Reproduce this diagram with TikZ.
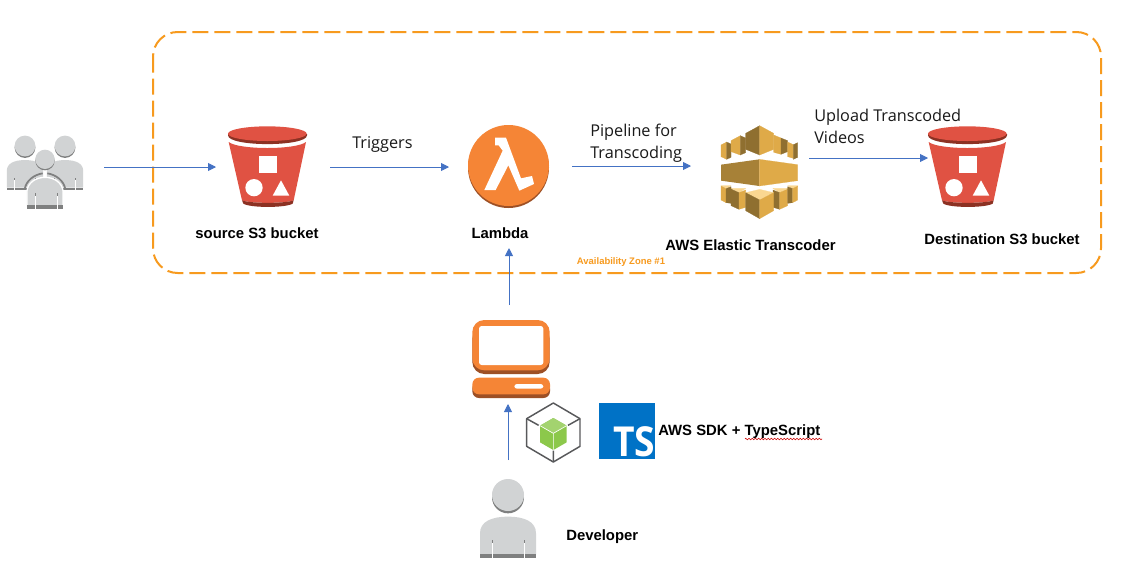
\documentclass[tikz,border=0pt]{standalone}
\usepackage{fontspec}
\setmainfont{Open Sans}
\newfontfamily\arialf{Liberation Sans}
\usetikzlibrary{arrows.meta,decorations.pathmorphing}
\definecolor{zoneorange}{HTML}{F79A1E}
\definecolor{flowblue}{HTML}{4472C4}
\definecolor{bucketred}{HTML}{E05243}
\definecolor{bucketdark}{HTML}{8C3123}
\definecolor{awsorange}{HTML}{F58536}
\definecolor{awsorangedark}{HTML}{9D5025}
\definecolor{goldlight}{HTML}{DFAA48}
\definecolor{golddark}{HTML}{8F6F30}
\definecolor{goldtop}{HTML}{FAD791}
\definecolor{persongrey}{HTML}{D1D3D4}
\definecolor{persondark}{HTML}{7F8080}
\definecolor{tsblue}{HTML}{0072C6}
\definecolor{nodegreen}{HTML}{8CC84B}
\definecolor{cubeline}{HTML}{58595B}
\tikzset{
  iconbox/.style={inner sep=0pt,outer sep=0pt,draw=none},
  flow/.style={draw=flowblue,line width=0.65pt,-{Triangle[length=6pt,width=6pt]}},
  boldlabel/.style={font=\arialf\bfseries\fontsize{11.15pt}{12pt}\selectfont,inner sep=0pt,text=black},
  flowlabel/.style={font=\fontsize{12.2pt}{16.5pt}\selectfont,inner sep=0pt,text=black!90,align=left},
  gl/.style={fill=goldlight,draw=goldlight,line width=0.15pt},
  gd/.style={fill=golddark,draw=golddark,line width=0.15pt},
  gt/.style={fill=goldtop,draw=goldtop,line width=0.15pt},
}
\newcommand{\bucketicon}[2]{%
\begin{scope}[shift={(#1,#2)},scale=1/3]
  \fill[bucketdark] (18,40) .. controls (18,75) and (255,75) .. (255,40) -- (255,36) -- (18,36) -- cycle;
  \fill[bucketred] (136,35) ellipse[x radius=118,y radius=22];
  \fill[bucketred] (20,60) .. controls (50,84) and (222,84) .. (252,60) -- (215,235) .. controls (190,245) and (85,245) .. (60,235) -- cycle;
  \fill[bucketdark] (60,235) .. controls (85,245) and (190,245) .. (215,235) -- (212,245) .. controls (190,258) and (85,258) .. (64,245) -- cycle;
  \fill[white] (112,102) rectangle (164,154);
  \fill[white] (96,197) circle[radius=26];
  \fill[white] (152,221) -- (202,221) -- (177,175) -- cycle;
\end{scope}}
\newcommand{\personicon}[4]{%
\begin{scope}[shift={(#1,#2)},scale=#3/3]
  \fill[persongrey] (-84,#4) -- (-84,115) .. controls (-84,80) and (-50,65) .. (0,65) .. controls (50,65) and (84,80) .. (84,115) -- (84,#4) -- cycle;
  \fill[persondark] (-84,#4) rectangle (84,#4+10);
  \fill[white] (-49,#4-33) rectangle (-47,#4+10);
  \fill[white] (47,#4-33) rectangle (49,#4+10);
  \fill[persondark] (-49,#4-43) rectangle (-47,#4-33);
  \fill[persondark] (47,#4-43) rectangle (49,#4-33);
  \fill[persondark] (0,7) circle[radius=48];
  \fill[persongrey] (0,0) circle[radius=48];
\end{scope}}
\begin{document}
\begin{tikzpicture}[x=0.75pt,y=-0.75pt]
\useasboundingbox (0,0) rectangle (1129,576);
\fill[white] (0,0) rectangle (1129,576);

% zone
\draw[draw=zoneorange,line width=1.5pt,rounded corners=18.5pt,dash pattern=on 12pt off 4.5pt]
  (153,32) rectangle (1101,273);
\node[font=\arialf\bfseries\fontsize{7.1pt}{8pt}\selectfont,text=zoneorange,inner sep=0pt] (zonelabel) at (621,262) {Availability Zone \#1};

% anchor boxes of the icons
\node[iconbox,minimum width=57.75pt,minimum height=55.5pt] (users) at (45.5,167) {};
\node[iconbox,minimum width=60pt,minimum height=61.5pt] (src) at (268,167) {};
\node[iconbox,minimum width=60.75pt,minimum height=60.75pt] (lam) at (508.5,167) {};
\node[iconbox,minimum width=57.75pt,minimum height=69.75pt] (trans) at (759.5,172.5) {};
\node[iconbox,minimum width=60pt,minimum height=61.5pt] (dest) at (968,167) {};
\node[iconbox,minimum width=58.5pt,minimum height=58.5pt] (comp) at (508.5,359) {};
\node[iconbox,minimum width=42pt,minimum height=58.5pt] (dev) at (508.5,519) {};

% users
\personicon{25}{146}{.65}{192}
\personicon{65}{146}{.65}{192}
\begin{scope}[shift={(0,130)},scale=1/3]
  \draw[persondark,line width=1.3pt] (74,178) .. controls (78,152) and (102,134) .. (128,130);
  \draw[persondark,line width=1.3pt] (196,178) .. controls (192,152) and (168,134) .. (142,130);
  \fill[persongrey,draw=white,line width=1pt] (81,232) -- (81,182) .. controls (84,160) and (105,142) .. (135,142) .. controls (165,142) and (186,160) .. (189,182) -- (189,232) -- cycle;
  \fill[persondark] (81,226) rectangle (189,236);
  \fill[white] (104,198) rectangle (106,236);
  \fill[white] (170,198) rectangle (172,236);
  \fill[persondark] (104,190) rectangle (106,198);
  \fill[persondark] (170,190) rectangle (172,198);
  \fill[persondark] (135,92) circle[radius=29];
  \fill[persongrey] (135,88) circle[radius=29];
\end{scope}

% buckets
\bucketicon{222}{122}
\bucketicon{922}{122}

% lambda
\fill[awsorangedark] (508.5,167.5) circle[radius=40.5];
\fill[awsorange] (508.5,165.5) circle[radius=40.5];
\begin{scope}[shift={(450,110)},scale=1/3]
  \fill[white] (135,83) -- (168,83) -- (213,205) -- (246,198) -- (252,222) -- (208,242) -- (175,166) -- (137,240) -- (103,240) -- (158,122) -- (146,106) -- (135,106) -- cycle;
\end{scope}

% transcoder
\begin{scope}[shift={(715,120)},scale=1/3]
  \path[gd] (134,17) -- (92,40) -- (92,88) -- (134,105) -- cycle;
  \path[gl] (134,17) -- (176,40) -- (176,88) -- (134,105) -- cycle;
  \path[gl] (18,75) -- (35,66) -- (35,118) -- (18,110) -- cycle;
  \path[gd] (35,66) -- (48,72) -- (48,112) -- (35,118) -- cycle;
  \path[gl] (48,62) -- (76,47) -- (76,105) -- (48,95) -- cycle;
  \path[gd] (76,47) -- (92,54) -- (92,98) -- (76,105) -- cycle;
  \path[gl] (176,45) -- (198,54) -- (198,103) -- (176,97) -- cycle;
  \path[gd] (198,54) -- (218,62) -- (218,95) -- (198,103) -- cycle;
  \path[gl] (218,66) -- (235,74) -- (235,115) -- (218,110) -- cycle;
  \path[gd] (235,74) -- (248,68) -- (248,112) -- (235,118) -- cycle;
  \fill[golddark!70!goldlight] (18,134) -- (133,118) -- (133,198) -- (18,182) -- cycle;
  \path[gl] (133,118) -- (248,134) -- (248,182) -- (133,198) -- cycle;
  \path[gt] (18,197) -- (48,197) -- (33,206) -- cycle;
  \path[gt] (48,205) -- (92,205) -- (72,218) -- cycle;
  \path[gt] (218,197) -- (248,197) -- (233,206) -- cycle;
  \path[gt] (174,205) -- (218,205) -- (194,218) -- cycle;
  \path[gl] (18,198) -- (33,206) -- (33,248) -- (18,240) -- cycle;
  \path[gd] (33,206) -- (48,200) -- (48,250) -- (33,248) -- cycle;
  \path[gd] (48,207) -- (72,218) -- (72,268) -- (48,257) -- cycle;
  \path[gl] (72,218) -- (92,210) -- (92,262) -- (72,268) -- cycle;
  \path[gd] (174,210) -- (194,218) -- (194,268) -- (174,262) -- cycle;
  \path[gl] (194,218) -- (218,207) -- (218,257) -- (194,268) -- cycle;
  \path[gd] (218,200) -- (233,206) -- (233,248) -- (218,250) -- cycle;
  \path[gl] (233,206) -- (248,198) -- (248,240) -- (233,248) -- cycle;
  \path[gt] (92,218) -- (134,208) -- (176,218) -- (134,240) -- cycle;
  \path[gd] (92,218) -- (134,240) -- (134,296) -- (92,272) -- cycle;
  \path[gl] (134,240) -- (176,218) -- (176,272) -- (134,296) -- cycle;
\end{scope}

% computer
\begin{scope}[shift={(450,310)},scale=1/3]
  \fill[awsorangedark,rounded corners=9pt] (67,50) rectangle (299,192);
  \fill[awsorange,rounded corners=9pt] (67,30) rectangle (299,181);
  \fill[white,rounded corners=2pt] (87,48) rectangle (280,165);
  \fill[awsorangedark,rounded corners=5pt] (67,215) rectangle (300,264);
  \fill[awsorange,rounded corners=5pt] (67,203) rectangle (300,253);
  \fill[white,rounded corners=2pt] (193,222) rectangle (280,236);
\end{scope}

% node cube
\begin{scope}[shift={(520,398)},scale=1/3]
  \draw[cubeline,line width=1.1pt,line join=round] (100,15) -- (180,62) -- (180,145) -- (100,192) -- (20,145) -- (20,62) -- cycle;
  \draw[cubeline,line width=1.1pt] (20,62) -- (56,82) (180,62) -- (144,82) (100,192) -- (100,158);
  \fill[nodegreen] (100,60) -- (140,83) -- (140,133) -- (100,156) -- (60,133) -- (60,83) -- cycle;
  \fill[nodegreen!80!white] (100,60) -- (140,83) -- (100,106) -- (60,83) -- cycle;
  \draw[white,line width=0.5pt] (60,83) -- (100,106) -- (140,83) (100,106) -- (100,156);
\end{scope}

% typescript logo
\fill[tsblue] (599,403) rectangle (655,459);
\node[font=\bfseries\fontsize{31pt}{31pt}\selectfont,text=white,inner sep=0pt,anchor=base east,xscale=0.9,transform shape] (tslogo) at (655.5,456) {TS};

% developer
\personicon{508}{495}{1}{178}

% connectors
\draw[flow] ([xshift=15pt]users.east) -- ([xshift=-9pt]src.west);
\draw[flow] ([xshift=16.5pt]src.east) -- ([xshift=-14.25pt]lam.west);
\draw[flow] ([xshift=17.25pt,yshift=0.75pt]lam.east) -- ([xshift=-22.5pt,yshift=4.875pt]trans.west);
\draw[flow] ([xshift=8.25pt,yshift=10.875pt]trans.east) -- ([yshift=6.75pt]dest.west);
\draw[flow] ([xshift=0.375pt,yshift=11.25pt]comp.north) -- ([xshift=0.375pt,yshift=-30.4pt]lam.south);
\draw[flow] ([xshift=-0.375pt,yshift=15pt]dev.north) -- ([xshift=-0.375pt,yshift=-4.5pt]comp.south);

% labels
\node[boldlabel] (srclabel) at (257,233) {source S3 bucket};
\node[boldlabel] (lamlabel) at (500,233) {Lambda};
\node[boldlabel] (translabel) at (750.5,245) {AWS Elastic Transcoder};
\node[boldlabel] (destlabel) at (1002,239) {Destination S3 bucket};
\node[boldlabel,anchor=west] (sdklabel) at (658,431.5) {AWS SDK + TypeScript};
\node[boldlabel,anchor=west] (devlabel) at (566,537) {Developer};
\node[flowlabel,anchor=west] (trig) at (352,144) {Triggers};
\node[flowlabel,anchor=west] (pipe) at (590,143) {Pipeline for\\Transcoding};
\node[flowlabel,anchor=west] (upl) at (814,126) {Upload Transcoded\\Videos};
\draw[red!80!black,line width=0.4pt,decorate,decoration={zigzag,segment length=2.4pt,amplitude=0.6pt}] (745,439) -- (822,439);
\end{tikzpicture}
\end{document}
